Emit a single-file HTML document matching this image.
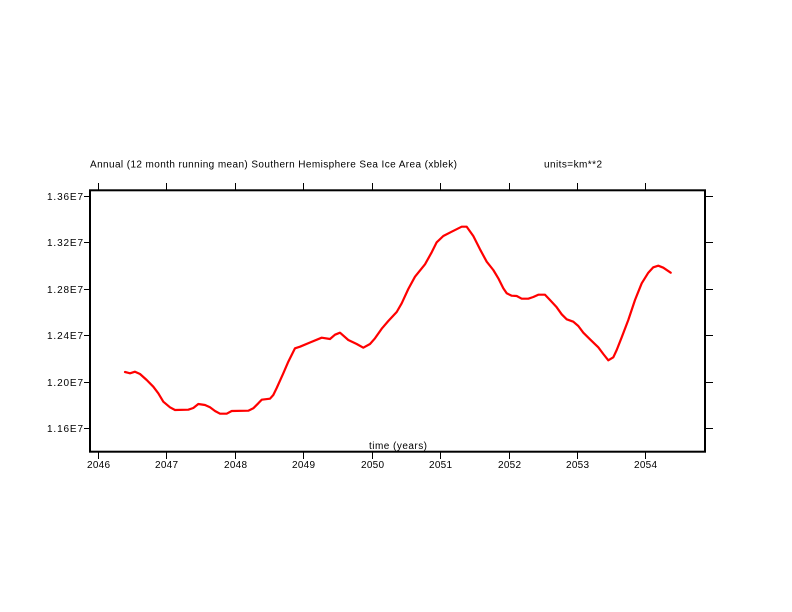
<!DOCTYPE html>
<html>
<head>
<meta charset="utf-8">
<style>
html,body{margin:0;padding:0;background:#fff;}
svg{display:block;}
text{font-family:"Liberation Sans",Arial,sans-serif;font-size:10px;fill:#000;}
</style>
</head>
<body>
<svg width="792" height="612" viewBox="0 0 792 612" xmlns="http://www.w3.org/2000/svg">
<rect x="0" y="0" width="792" height="612" fill="#fff"/>
<text x="90" y="167.5" textLength="367" lengthAdjust="spacing">Annual (12 month running mean) Southern Hemisphere Sea Ice Area (xblek)</text>
<text x="544" y="167.5" textLength="58" lengthAdjust="spacing">units=km**2</text>

<!-- ticks -->
<g stroke="#000" stroke-width="1">
  <line x1="98.5" y1="183" x2="98.5" y2="190"/>
  <line x1="166.5" y1="183" x2="166.5" y2="190"/>
  <line x1="235.5" y1="183" x2="235.5" y2="190"/>
  <line x1="303.5" y1="183" x2="303.5" y2="190"/>
  <line x1="372.5" y1="183" x2="372.5" y2="190"/>
  <line x1="440.5" y1="183" x2="440.5" y2="190"/>
  <line x1="509.5" y1="183" x2="509.5" y2="190"/>
  <line x1="577.5" y1="183" x2="577.5" y2="190"/>
  <line x1="645.5" y1="183" x2="645.5" y2="190"/>
  <line x1="98.5" y1="452" x2="98.5" y2="459"/>
  <line x1="166.5" y1="452" x2="166.5" y2="459"/>
  <line x1="235.5" y1="452" x2="235.5" y2="459"/>
  <line x1="303.5" y1="452" x2="303.5" y2="459"/>
  <line x1="372.5" y1="452" x2="372.5" y2="459"/>
  <line x1="440.5" y1="452" x2="440.5" y2="459"/>
  <line x1="509.5" y1="452" x2="509.5" y2="459"/>
  <line x1="577.5" y1="452" x2="577.5" y2="459"/>
  <line x1="645.5" y1="452" x2="645.5" y2="459"/>
  <line x1="84" y1="196.5" x2="90" y2="196.5"/>
  <line x1="84" y1="242.5" x2="90" y2="242.5"/>
  <line x1="84" y1="289.5" x2="90" y2="289.5"/>
  <line x1="84" y1="335.5" x2="90" y2="335.5"/>
  <line x1="84" y1="382.5" x2="90" y2="382.5"/>
  <line x1="84" y1="428.5" x2="90" y2="428.5"/>
  <line x1="705" y1="196.5" x2="713" y2="196.5"/>
  <line x1="705" y1="242.5" x2="713" y2="242.5"/>
  <line x1="705" y1="289.5" x2="713" y2="289.5"/>
  <line x1="705" y1="335.5" x2="713" y2="335.5"/>
  <line x1="705" y1="382.5" x2="713" y2="382.5"/>
  <line x1="705" y1="428.5" x2="713" y2="428.5"/>
</g>

<!-- frame -->
<rect x="90" y="190.3" width="615" height="261.4" fill="none" stroke="#000" stroke-width="2"/>

<!-- y labels -->
<text x="47" y="200" textLength="36" lengthAdjust="spacing">1.36E7</text>
<text x="47" y="246" textLength="36" lengthAdjust="spacing">1.32E7</text>
<text x="47" y="293" textLength="36" lengthAdjust="spacing">1.28E7</text>
<text x="47" y="339" textLength="36" lengthAdjust="spacing">1.24E7</text>
<text x="47" y="386" textLength="36" lengthAdjust="spacing">1.20E7</text>
<text x="47" y="432" textLength="36" lengthAdjust="spacing">1.16E7</text>

<!-- x labels -->
<text x="87" y="468" textLength="23" lengthAdjust="spacing">2046</text>
<text x="155" y="468" textLength="23" lengthAdjust="spacing">2047</text>
<text x="224" y="468" textLength="23" lengthAdjust="spacing">2048</text>
<text x="292" y="468" textLength="23" lengthAdjust="spacing">2049</text>
<text x="361" y="468" textLength="23" lengthAdjust="spacing">2050</text>
<text x="429" y="468" textLength="23" lengthAdjust="spacing">2051</text>
<text x="498" y="468" textLength="23" lengthAdjust="spacing">2052</text>
<text x="566" y="468" textLength="23" lengthAdjust="spacing">2053</text>
<text x="634" y="468" textLength="23" lengthAdjust="spacing">2054</text>
<text x="369" y="449" textLength="58" lengthAdjust="spacing">time (years)</text>

<!-- data -->
<polyline fill="none" stroke="#ff0000" stroke-width="2.2" stroke-linejoin="round" stroke-linecap="round"
points="125,372 130,373.3 135,371.7 140,374 146.7,380 153.3,386.7 158.3,393.3 163.3,401.7 170,407.3 175,410 188.3,409.7 193.3,408 198.3,404 205,405 210,407.3 215,411 220,413.7 226.7,413.7 231.7,411 248.3,410.7 253.3,408.3 258.3,403.3 261.7,399.7 270,398.7 273.3,395 276.7,388 283.3,373.3 288.3,361.7 295,348.3 300,346.7 310,342.5 321.7,337.7 330,339 335,334.7 340,332.7 348.3,340 356.7,344 363.3,347.7 370,344 375,338.3 381.7,328.7 388.3,321 396.7,312 401.7,303.3 408.3,289 415,276.7 425,264.3 431.7,252.3 436.7,242.3 443.3,236 451.7,231.7 461.7,226.7 466.7,226.7 473.3,236 480,249.3 486.7,261.7 493.3,270 498.3,278.3 503.3,288.3 506.7,293.3 511.7,295.7 516.7,296 521.7,298.7 528.3,298.7 533.3,297 538.3,294.7 545,294.7 550,300 556.7,307.3 561.7,314.3 566.7,319.3 573.3,321.7 578.3,326 583.3,332.7 590,339.3 598.3,347.3 603.3,354 608.3,360.3 613.3,357.3 616.7,350 621.7,337.3 628.3,320 635,300 641.7,283.3 648.3,272.7 653.3,267.3 658.3,265.7 663.3,267.7 670.7,272.7"/>
</svg>
</body>
</html>
